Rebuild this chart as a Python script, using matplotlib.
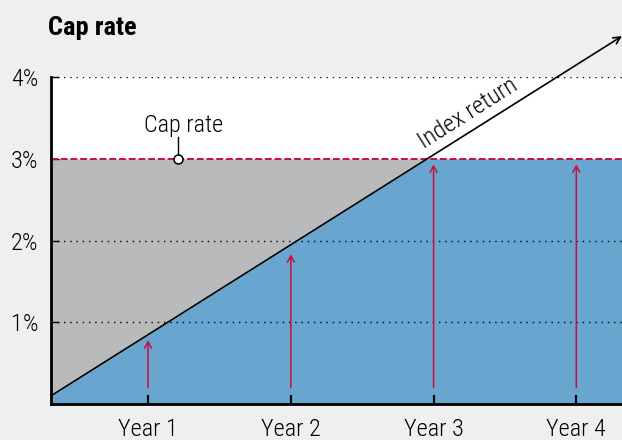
import matplotlib
matplotlib.use("Agg")
import matplotlib.pyplot as plt
from matplotlib import font_manager
import numpy as np

# ---- data ----
years = [1, 2, 3, 4]
year_labels = ["Year 1", "Year 2", "Year 3", "Year 4"]
ytick_vals = [1, 2, 3, 4]
ytick_labels = ["1%", "2%", "3%", "4%"]
cap_rate = 3.0
index_x = [0.32, 4.32]          # index return line (years)
index_y = [0.10, 4.50]          # index return line (%)
credit_base = [0.2, 0.2, 0.2, 0.2]
credit_top = [0.78, 1.83, 2.93, 2.93]
cap_marker_x = 1.21
xlim = (0.32, 4.32)
ylim = (0, 4)

# ---- font ----
names = {f.name for f in font_manager.fontManager.ttflist}
fam = "DejaVu Sans"
for cand in ["Roboto Condensed", "Liberation Sans Narrow", "DejaVu Sans Condensed", "Roboto"]:
    if cand in names:
        fam = cand
        break
plt.rcParams["font.family"] = [fam, "DejaVu Sans"]
LW = "light"
FS = 17.5

BG = "#efefef"
BLUE = "#68a5cf"
GREY = "#b9babc"
RED = "#c8103e"

fig = plt.figure(figsize=(6.22, 4.40), dpi=100, facecolor=BG)
ax = fig.add_axes([51/622, 36/440, 571/622, 327/440])
ax.set_facecolor("white")
ax.set_xlim(*xlim)
ax.set_ylim(*ylim)

# fills
xs = np.linspace(xlim[0], xlim[1], 400)
idx = np.interp(xs, index_x, index_y)
credited = np.minimum(idx, cap_rate)
ax.fill_between(xs, 0, credited, color=BLUE, lw=0, zorder=1)
ax.fill_between(xs, credited, cap_rate, color=GREY, lw=0, zorder=1)

# gridlines
for v in ytick_vals:
    if v != cap_rate:
        ax.axhline(v, color="black", lw=1.0, ls=(0, (1, 3.5)), zorder=2)

# cap rate dashed line
ax.axhline(cap_rate, color=RED, lw=1.4, ls=(0, (3.5, 1.5)), zorder=3)

# credited arrows
for x, b, t in zip(years, credit_base, credit_top):
    ax.annotate("", xy=(x, t), xytext=(x, b),
                arrowprops=dict(arrowstyle="->,head_length=0.45,head_width=0.25",
                                color=RED, lw=1.1, shrinkA=0, shrinkB=0), zorder=4)

# index return line with arrow
ax.annotate("", xy=(index_x[1], index_y[1]), xytext=(index_x[0], index_y[0]),
            xycoords="data", annotation_clip=False,
            arrowprops=dict(arrowstyle="->,head_length=0.5,head_width=0.25",
                            color="black", lw=1.2, shrinkA=0, shrinkB=0), zorder=5)
ax.text(3.24, 3.56, "Index return", rotation=32.3, ha="center", va="center",
        fontsize=FS, fontweight=LW, color="black", rotation_mode="anchor", zorder=6)

# cap rate marker & label
ax.plot([cap_marker_x, cap_marker_x], [cap_rate, 3.27], color="black", lw=1.0, zorder=6)
ax.plot([cap_marker_x], [cap_rate], "o", ms=6.5, mfc="white", mec="black", mew=1.1, zorder=7)
ax.text(cap_marker_x + 0.04, 3.27, "Cap rate", ha="center", va="bottom",
        fontsize=FS, fontweight=LW, zorder=6)

# axes styling
for s in ["top", "right"]:
    ax.spines[s].set_visible(False)
ax.spines["left"].set_linewidth(2)
ax.spines["bottom"].set_linewidth(2)
ax.spines["left"].set_zorder(8)
ax.spines["bottom"].set_zorder(8)
ax.set_xticks(years)
ax.set_xticklabels(year_labels, fontsize=FS, fontweight=LW)
ax.set_yticks(ytick_vals)
ax.set_yticklabels(ytick_labels, fontsize=FS, fontweight=LW)
ax.tick_params(axis="x", direction="in", length=6.5, width=1.6, pad=10)
ax.tick_params(axis="y", direction="in", length=5.5, width=1.0, pad=9)

fig.text(48/622, 1 - 28/440, "Cap rate", fontsize=19, fontweight="bold", ha="left", va="center")

fig.savefig("out.png", dpi=100, facecolor=BG)
